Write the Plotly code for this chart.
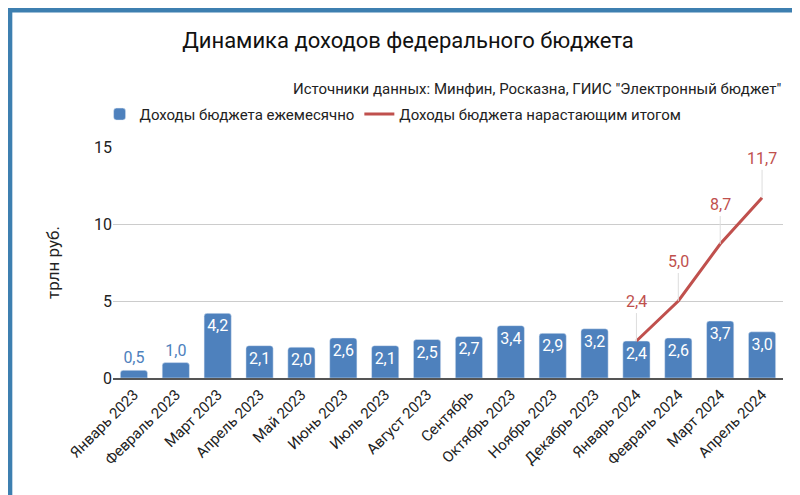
import plotly.graph_objects as go

months = ["Январь 2023", "Февраль 2023", "Март 2023", "Апрель 2023", "Май 2023",
          "Июнь 2023", "Июль 2023", "Август 2023", "Сентябрь", "Октябрь 2023",
          "Ноябрь 2023", "Декабрь 2023", "Январь 2024", "Февраль 2024",
          "Март 2024", "Апрель 2024"]
monthly = [0.5, 1.0, 4.2, 2.1, 2.0, 2.6, 2.1, 2.5, 2.7, 3.4, 2.9, 3.2, 2.4, 2.6, 3.7, 3.0]
cum_months = ["Январь 2024", "Февраль 2024", "Март 2024", "Апрель 2024"]
cumulative = [2.4, 5.0, 8.7, 11.7]

blue = "#4e81bd"
red = "#c0504d"

def fmt(v):
    return f"{v:.1f}".replace(".", ",")

fig = go.Figure()
fig.add_trace(go.Bar(
    x=months, y=monthly, name="Доходы бюджета ежемесячно",
    marker=dict(color=blue, cornerradius=3),
    text=[fmt(v) for v in monthly],
    textposition=["outside" if v < 1.5 else "inside" for v in monthly],
    insidetextanchor="end",
    insidetextfont=dict(color="white", size=16),
    outsidetextfont=dict(color=blue, size=16),
    cliponaxis=False, width=0.65,
))
fig.add_trace(go.Scatter(
    x=cum_months, y=cumulative, name="Доходы бюджета нарастающим итогом",
    mode="lines", line=dict(color=red, width=3),
))
for m, v in zip(cum_months, cumulative):
    fig.add_annotation(x=m, y=v, text=fmt(v), showarrow=True, arrowhead=0,
                       arrowwidth=1, arrowcolor="#dddddd", ax=0, ay=-28,
                       yanchor="bottom", font=dict(color=red, size=16))

fig.update_layout(
    width=800, height=495, plot_bgcolor="white", paper_bgcolor="white",
    font=dict(family="Roboto", size=14, color="#222"),
    title=dict(text="Динамика доходов федерального бюджета", x=0.5, y=0.95,
               xanchor="center", font=dict(size=22, color="#111")),
    margin=dict(l=105, r=25, t=139, b=125),
    legend=dict(orientation="h", x=-0.02, y=1.07, xanchor="left", yanchor="bottom",
                font=dict(size=15)),
    bargap=0.35, showlegend=True,
    shapes=[dict(type="rect", xref="paper", yref="paper", x0=-0.154, x1=1.033,
                 y0=-0.532, y1=1.593, line=dict(color="#3d7fb0", width=5))],
    annotations=list(fig.layout.annotations) + [
        dict(text='Источники данных: Минфин, Росказна, ГИИС "Электронный бюджет"',
             xref="paper", yref="paper", x=1.0, y=1.3, xanchor="right",
             showarrow=False, font=dict(size=15, color="#222"))],
)
fig.update_yaxes(range=[0, 15], tickvals=[0, 5, 10, 15], gridcolor="#cccccc",
                 title=dict(text="трлн руб.", standoff=30), zeroline=False,
                 tickfont=dict(size=16), showline=False)
fig.update_xaxes(tickangle=-45, showline=True, linecolor="#555", linewidth=2,
                 tickfont=dict(size=15))
fig.write_html("out.html")
